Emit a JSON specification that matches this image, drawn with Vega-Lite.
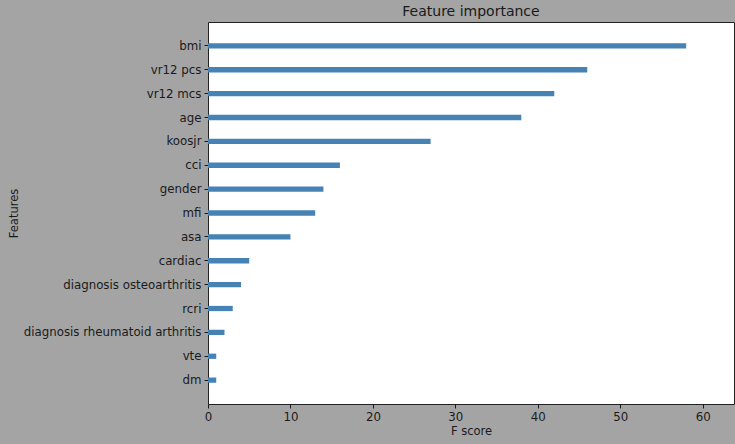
{
  "$schema": "https://vega.github.io/schema/vega-lite/v6.json",
  "autosize": {"type": "none"},
  "width": 526,
  "height": 382,
  "padding": {"left": 208, "top": 22, "right": 1, "bottom": 40},
  "background": "#a4a4a4",
  "title": {"text": "Feature importance", "fontSize": 14, "font": "DejaVu Sans", "fontWeight": "normal", "color": "#1a1a1a", "anchor": "middle", "offset": 3},
  "data": {"values": [
    {"feature": "bmi", "score": 58},
    {"feature": "vr12 pcs", "score": 46},
    {"feature": "vr12 mcs", "score": 42},
    {"feature": "age", "score": 38},
    {"feature": "koosjr", "score": 27},
    {"feature": "cci", "score": 16},
    {"feature": "gender", "score": 14},
    {"feature": "mfi", "score": 13},
    {"feature": "asa", "score": 10},
    {"feature": "cardiac", "score": 5},
    {"feature": "diagnosis osteoarthritis", "score": 4},
    {"feature": "rcri", "score": 3},
    {"feature": "diagnosis rheumatoid arthritis", "score": 2},
    {"feature": "vte", "score": 1},
    {"feature": "dm", "score": 1}
  ]},
  "mark": {"type": "bar", "color": "#4682b4"},
  "encoding": {
    "y": {
      "field": "feature", "type": "nominal", "sort": null,
      "scale": {"paddingInner": 0.78, "paddingOuter": 0.89},
      "axis": {"title": "Features", "titleFontSize": 11.5, "titlePadding": 0, "titleX": -189, "titleFontWeight": "normal", "titleColor": "#1a1a1a", "labelFontSize": 11.8, "labelColor": "#1a1a1a", "tickSize": 4, "tickColor": "#1a1a1a", "labelPadding": 3, "domain": false, "labelFont": "DejaVu Sans", "titleFont": "DejaVu Sans"}
    },
    "x": {
      "field": "score", "type": "quantitative",
      "scale": {"domain": [0, 63.8], "nice": false},
      "axis": {"title": "F score", "values": [0, 10, 20, 30, 40, 50, 60], "grid": false, "titleFontSize": 11.5, "titleFontWeight": "normal", "titleColor": "#1a1a1a", "titlePadding": 3, "labelFontSize": 11.8, "labelColor": "#1a1a1a", "tickSize": 4, "tickColor": "#1a1a1a", "labelPadding": 3, "domain": false, "labelFont": "DejaVu Sans", "titleFont": "DejaVu Sans", "labelFlush": false}
    }
  },
  "config": {
    "view": {"fill": "white", "stroke": "#222222", "strokeWidth": 1}
  }
}
